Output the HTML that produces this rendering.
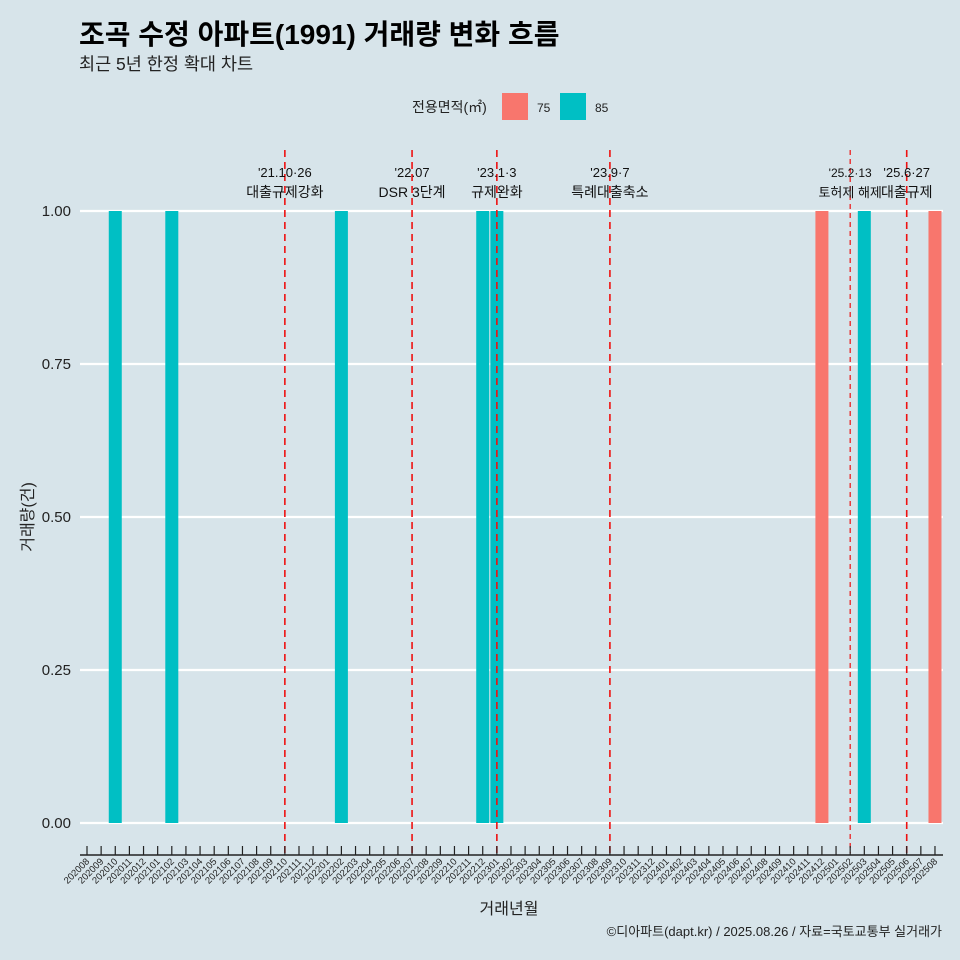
<!DOCTYPE html>
<html><head><meta charset="utf-8"><style>
body{margin:0;background:#d7e4ea;}
svg{display:block;font-family:"Liberation Sans","Noto Sans CJK KR",sans-serif;}
</style></head><body>
<svg id="chart" width="960" height="960" viewBox="0 0 960 960">
<rect width="960" height="960" fill="#d7e4ea"/>
<text x="79" y="44" font-size="28" font-weight="bold" fill="#000">조곡 수정 아파트(1991) 거래량 변화 흐름</text>
<text x="79" y="70" font-size="17.5" fill="#222">최근 5년 한정 확대 차트</text>
<g>
<text x="412" y="112" font-size="14" fill="#222">전용면적(㎡)</text>
<rect x="502" y="93" width="26" height="27" fill="#f8766d"/>
<text x="537" y="112" font-size="12" fill="#222">75</text>
<rect x="560" y="93" width="26" height="27" fill="#00bfc4"/>
<text x="595" y="112" font-size="12" fill="#222">85</text>
</g>
<g id="grid"></g><g id="bars"></g><g id="events"></g><g id="xaxis"></g><g id="yaxis"></g>
<text x="509" y="914" font-size="16" fill="#222" text-anchor="middle">거래년월</text>
<text transform="translate(33,517) rotate(-90)" font-size="16" fill="#222" text-anchor="middle">거래량(건)</text>
<text x="942" y="936" font-size="13" fill="#222" text-anchor="end">©디아파트(dapt.kr) / 2025.08.26 / 자료=국토교통부 실거래가</text>
</svg>
<script>
const months=[];for(let y=2020;y<=2025;y++)for(let m=1;m<=12;m++){const k=y*100+m;if(k>=202008&&k<=202508)months.push(String(k));}
const yTicks=[0,0.25,0.5,0.75,1];
const yTickLabels=["0.00","0.25","0.50","0.75","1.00"];
const barMonths=["202010","202102","202202","202212","202301","202412","202503","202508"];
const barValues=[1,1,1,1,1,1,1,1];
const barAreas=["85","85","85","85","85","75","85","75"];
const eventPos=[14,23,29,37,54,58];
const eventDates=["'21.10·26","'22.07","'23.1·3","'23.9·7","'25.2·13","'25.6·27"];
const eventNames=["대출규제강화","DSR 3단계","규제완화","특례대출축소","토허제 해제","대출규제"];
const colors={"75":"#f8766d","85":"#00bfc4"};
const NS="http://www.w3.org/2000/svg";
const x=i=>87+14.133*i, y=v=>823-612*v;
function mk(t,a,p){const e=document.createElementNS(NS,t);for(const k in a)e.setAttribute(k,a[k]);document.getElementById(p).appendChild(e);return e;}
yTicks.forEach((v,i)=>{
 const l=mk('line',{x1:80,x2:943,y1:y(v),y2:y(v),stroke:'#fff','stroke-width':2.2},'grid');
 
 
 const t=mk('text',{x:71,y:y(v)+5,'font-size':15,'text-anchor':'end',fill:'#222'},'yaxis');
 t.textContent=yTickLabels[i];
 
 
});
barMonths.forEach((m,i)=>{
 const xi=x(months.indexOf(m));
 const r=mk('rect',{x:xi-6.5,y:y(barValues[i]),width:13,height:y(0)-y(barValues[i]),fill:colors[barAreas[i]]},'bars');
 
 
});
eventPos.forEach((p,i)=>{
 const xi=x(p);
 const l=mk('line',{x1:xi,x2:xi,y1:150,y2:853,stroke:'#ee1111','stroke-width':i==4?1.2:1.6,'stroke-dasharray':i==4?'5,4':'7,5'},'events');
 
 
 const fs=i==4?12:13;
 const t1=mk('text',{x:xi,y:177,'font-size':fs,'text-anchor':'middle',fill:'#111'},'events');
 t1.textContent=eventDates[i];
 
 
 const t2=mk('text',{x:xi,y:197,'font-size':fs+1,'text-anchor':'middle',fill:'#111'},'events');
 t2.textContent=eventNames[i];
 
 
});
const ax=mk('line',{x1:80,x2:943,y1:855,y2:855,stroke:'#222','stroke-width':1.5},'xaxis');


months.forEach((m,i)=>{
 const xi=x(i);
 const tk=mk('line',{x1:xi,x2:xi,y1:846,y2:855,stroke:'#222','stroke-width':1.2},'xaxis');
 
 
 const t=mk('text',{transform:`translate(${xi+3},${862}) rotate(-45)`,'font-size':9.5,'text-anchor':'end',fill:'#222'},'xaxis');
 t.textContent=m;
 
 
});
</script>
</body></html>
